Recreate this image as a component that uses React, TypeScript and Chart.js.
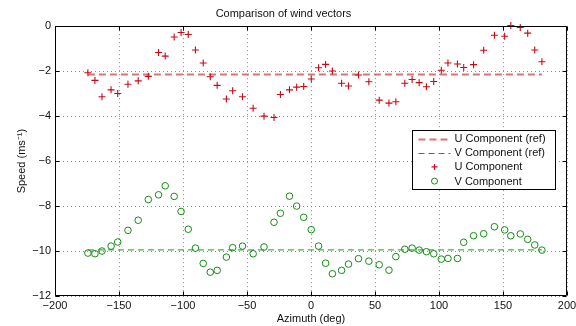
import { useEffect, useRef } from 'react';
import { Chart, registerables } from 'chart.js';
Chart.register(...registerables);

const titleText = 'Comparison of wind vectors';
const xLabel = 'Azimuth (deg)';
const yLabel = 'Speed (ms\u207B\u00B9)';

const azimuth = [
  -174.3, -168.8, -163.3, -156.2, -151, -143, -135, -127.1, -119.1, -113.9,
  -106.9, -101.5, -95.9, -90.3, -84.2, -78.7, -73.3, -66.1, -61.2, -53.5,
  -45.2, -36.7, -28.9, -23.9, -16.8, -11.2, -5.7, 0.2, 5.9, 11.4,
  16.7, 23.9, 29.3, 37.1, 45.2, 53.3, 60.9, 66.3, 73.3, 79,
  84.5, 90.2, 95.9, 101.8, 107, 114.4, 119.3, 127, 134.9, 143.3,
  151.3, 156.1, 163.5, 169.3, 174.8, 180.4,
];

const uComponent = [
  -2.07, -2.41, -3.14, -2.83, -2.99, -2.58, -2.43, -2.23, -1.17, -1.33,
  -0.48, -0.28, -0.37, -1.06, -1.64, -2.25, -2.63, -3.24, -2.87, -3.14,
  -3.65, -4.0, -4.06, -3.04, -2.83, -2.71, -2.68, -2.35, -1.85, -1.7,
  -1.99, -2.54, -2.66, -2.17, -2.47, -3.29, -3.42, -3.36, -2.54, -2.37,
  -2.51, -2.69, -2.46, -1.96, -1.64, -1.68, -1.84, -1.71, -1.07, -0.4,
  -0.45, 0.03, -0.06, -0.31, -1.06, -1.58,
];

const vComponent = [
  -10.09, -10.12, -10.0, -9.78, -9.6, -9.08, -8.63, -7.71, -7.5, -7.1,
  -7.57, -8.24, -9.03, -9.87, -10.55, -10.94, -10.86, -10.27, -9.85, -9.78,
  -10.12, -9.82, -8.72, -8.32, -7.56, -8.0, -8.5, -9.05, -9.78, -10.54,
  -11.01, -10.86, -10.58, -10.34, -10.45, -10.61, -10.85, -10.25, -9.92, -9.87,
  -9.96, -10.03, -10.12, -10.36, -10.33, -10.33, -9.61, -9.32, -9.23, -8.92,
  -9.06, -9.32, -9.24, -9.48, -9.73, -9.96,
];

const uRef = -2.15;
const vRef = -9.95;

const seriesLabels = ['U Component (ref)', 'V Component (ref)', 'U Component', 'V Component'];

const xMin = -200, xMax = 200, xStep = 50;
const yMin = -12, yMax = 0, yStep = 2;

const RED = 'rgb(200,10,20)';
const RED_REF = 'rgba(214,90,90,0.85)';
const GREEN = 'rgb(20,140,20)';
const GREEN_REF = 'rgb(30,150,30)';
const FONT = '"Liberation Sans", Arial, Helvetica, sans-serif';

const fmt = (v: number) => (v < 0 ? '\u2212' + Math.abs(v) : String(v));

const framePlugin = {
  id: 'frameAndLegend',
  afterDraw(chart: any) {
    const { ctx, chartArea, scales } = chart;
    const { left, right, top, bottom } = chartArea;
    const x = scales.x, y = scales.y;
    ctx.save();
    ctx.strokeStyle = '#000';
    ctx.lineWidth = 1;
    const L = Math.round(left) + 0.5, R = Math.round(right) - 0.5;
    const T = Math.round(top) + 0.5, B = Math.round(bottom) - 0.5;
    ctx.beginPath();
    ctx.rect(L, T, R - L, B - T);
    ctx.stroke();
    const tl = 4;
    ctx.beginPath();
    x.ticks.forEach((t: any) => {
      const px = Math.round(x.getPixelForValue(t.value)) + 0.5;
      ctx.moveTo(px, B); ctx.lineTo(px, B - tl);
      ctx.moveTo(px, T); ctx.lineTo(px, T + tl);
    });
    y.ticks.forEach((t: any) => {
      const py = Math.round(y.getPixelForValue(t.value)) + 0.5;
      ctx.moveTo(L, py); ctx.lineTo(L + tl, py);
      ctx.moveTo(R, py); ctx.lineTo(R - tl, py);
    });
    ctx.stroke();

    // legend box
    const bx = Math.round(right) - 154.5, by = Math.round(top) + 104.5;
    const bw = 143, bh = 59;
    ctx.fillStyle = '#fff';
    ctx.fillRect(bx, by, bw, bh);
    ctx.strokeStyle = '#000';
    ctx.strokeRect(bx, by, bw, bh);
    ctx.font = '11px ' + FONT;
    ctx.textBaseline = 'middle';
    ctx.textAlign = 'left';
    const ds = chart.data.datasets;
    for (let i = 0; i < 4; i++) {
      const ry = by + 8 + i * 14.2;
      const d = ds[i];
      const lx0 = bx + 6, lx1 = bx + 38, cx = (lx0 + lx1) / 2;
      if (i < 2) {
        ctx.save();
        ctx.strokeStyle = d.borderColor;
        ctx.lineWidth = d.borderWidth;
        ctx.setLineDash(d.borderDash);
        ctx.beginPath();
        ctx.moveTo(lx0, Math.round(ry) + 0.5);
        ctx.lineTo(lx1, Math.round(ry) + 0.5);
        ctx.stroke();
        ctx.restore();
      } else if (i === 2) {
        ctx.save();
        ctx.strokeStyle = d.borderColor;
        ctx.lineWidth = d.borderWidth;
        ctx.beginPath();
        ctx.moveTo(cx - 3, ry); ctx.lineTo(cx + 3, ry);
        ctx.moveTo(cx, ry - 3); ctx.lineTo(cx, ry + 3);
        ctx.stroke();
        ctx.restore();
      } else {
        ctx.save();
        ctx.strokeStyle = d.borderColor;
        ctx.lineWidth = d.borderWidth;
        ctx.beginPath();
        ctx.arc(cx, ry, 3, 0, Math.PI * 2);
        ctx.stroke();
        ctx.restore();
      }
      ctx.fillStyle = '#111';
      ctx.fillText(d.label, lx1 + 4, ry + 0.5);
    }
    ctx.restore();
  },
};

export default function App() {
  const ref = useRef<HTMLCanvasElement | null>(null);
  useEffect(() => {
    if (!ref.current) return;
    const font = { family: FONT, size: 11 };
    const chart = new Chart(ref.current, {
      type: 'scatter',
      data: {
        datasets: [
          {
            label: seriesLabels[0],
            type: 'line',
            data: [
              { x: azimuth[0], y: uRef },
              { x: azimuth[azimuth.length - 1], y: uRef },
            ],
            borderColor: RED_REF,
            borderWidth: 2,
            borderDash: [7, 4],
            pointRadius: 0,
            fill: false,
            order: 4,
          },
          {
            label: seriesLabels[1],
            type: 'line',
            data: [
              { x: azimuth[0], y: vRef },
              { x: azimuth[azimuth.length - 1], y: vRef },
            ],
            borderColor: GREEN_REF,
            borderWidth: 1,
            borderDash: [6, 4],
            pointRadius: 0,
            fill: false,
            order: 3,
          },
          {
            label: seriesLabels[2],
            data: azimuth.map((a, i) => ({ x: a, y: uComponent[i] })),
            showLine: false,
            pointStyle: 'cross',
            pointRadius: 3.5,
            borderColor: RED,
            backgroundColor: RED,
            borderWidth: 1.1,
            clip: false,
            order: 2,
          },
          {
            label: seriesLabels[3],
            data: azimuth.map((a, i) => ({ x: a, y: vComponent[i] })),
            showLine: false,
            pointStyle: 'circle',
            pointRadius: 3.3,
            borderColor: GREEN,
            backgroundColor: 'rgba(0,0,0,0)',
            borderWidth: 1,
            clip: false,
            order: 1,
          },
        ] as any,
      },
      options: {
        animation: false,
        responsive: false,
        devicePixelRatio: 1,
        layout: { padding: { left: 0, right: 9, top: 0, bottom: 0 } },
        plugins: {
          legend: { display: false },
          tooltip: { enabled: false },
          title: {
            display: true,
            text: titleText,
            color: '#111',
            font: { family: FONT, size: 11, weight: 'normal' },
            padding: { top: 7, bottom: 6 },
          },
        },
        scales: {
          x: {
            type: 'linear',
            min: xMin,
            max: xMax,
            ticks: { stepSize: xStep, callback: (v: any) => fmt(v), font, color: '#111', padding: 3, maxRotation: 0, autoSkip: false },
            grid: { color: '#8a8a8a', lineWidth: 1, drawTicks: false },
            border: { display: false, dash: [1, 3] },
            title: { display: true, text: xLabel, font, color: '#111', padding: { top: 1, bottom: 0 } },
            afterFit: (s: any) => { s.height = 30; s.paddingRight = 0; s.paddingLeft = 0; },
          },
          y: {
            type: 'linear',
            min: yMin,
            max: yMax,
            ticks: { stepSize: yStep, callback: (v: any) => fmt(v), font, color: '#111', padding: 4 },
            grid: { color: '#8a8a8a', lineWidth: 1, drawTicks: false },
            border: { display: false, dash: [1, 3] },
            title: { display: true, text: yLabel, font, color: '#111', padding: { top: 15, bottom: 0 } },
            afterFit: (s: any) => { s.width = 55; },
          },
        },
      } as any,
      plugins: [framePlugin],
    });
    return () => chart.destroy();
  }, []);
  return (
    <div style={{ position: 'fixed', left: 0, top: 0, width: 576, height: 326, background: '#fff' }}>
      <canvas ref={ref} width={576} height={326} style={{ width: 576, height: 326, display: 'block' }} />
    </div>
  );
}
